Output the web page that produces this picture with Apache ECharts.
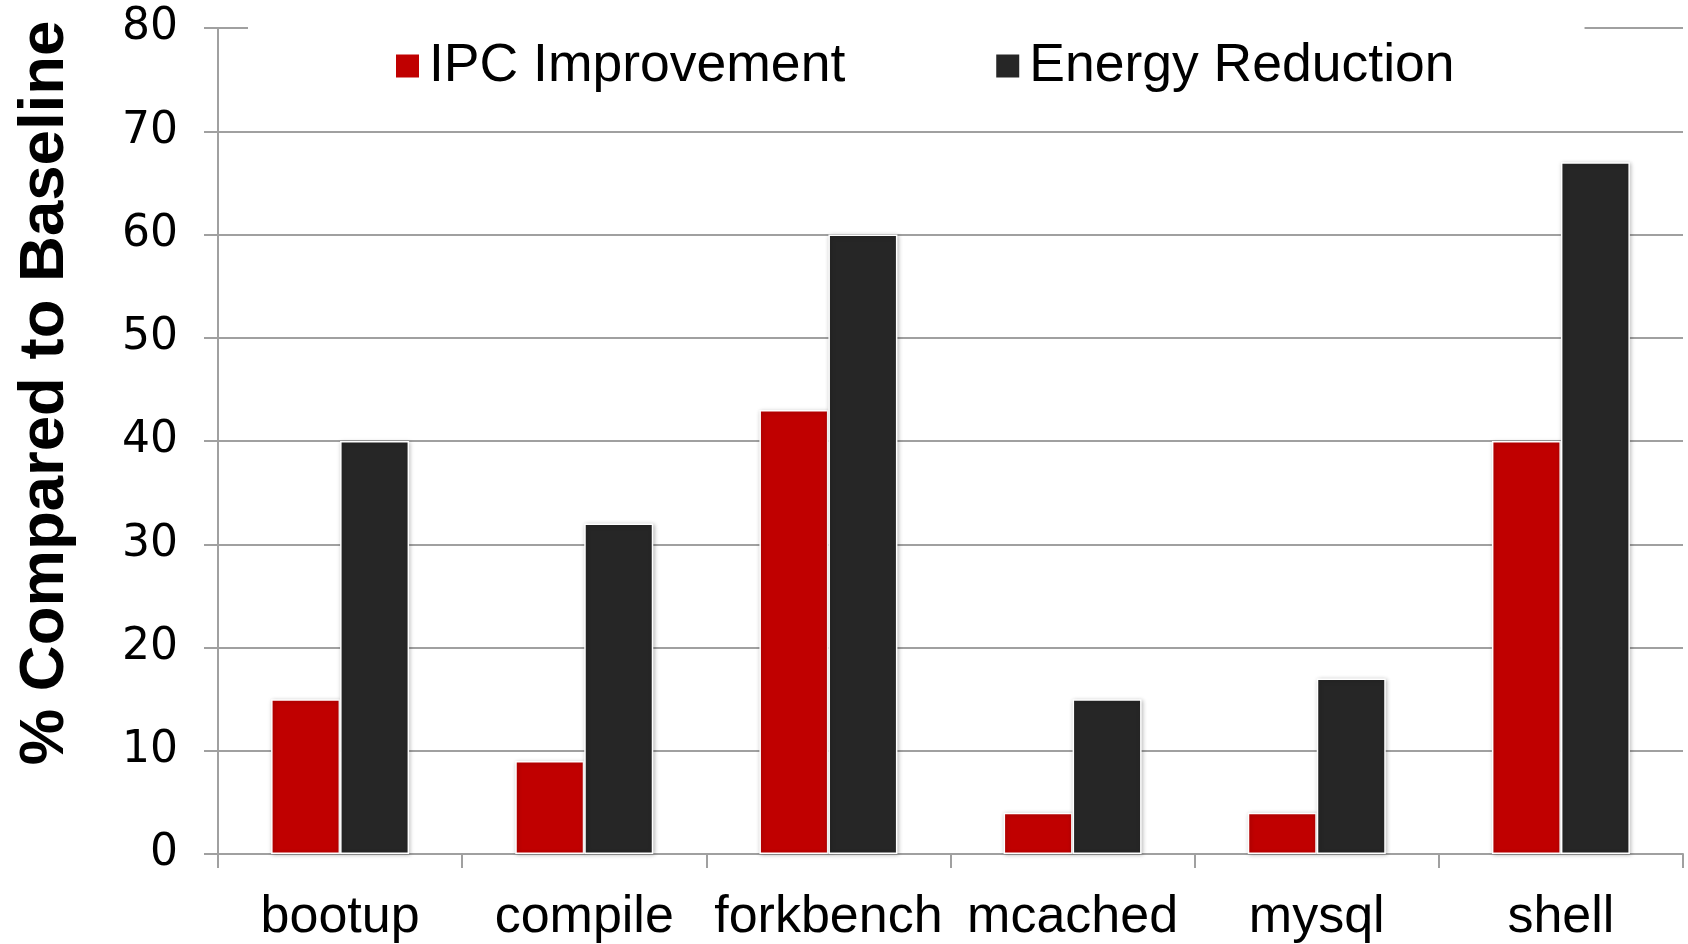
<!DOCTYPE html>
<html>
<head>
<meta charset="utf-8">
<script src="https://cdn.jsdelivr.net/npm/echarts@6/dist/echarts.min.js"></script>
<style>html,body{margin:0;padding:0;background:#fff}#c{width:1688px;height:944px}</style>
</head>
<body>
<div id="c"></div>
<script>
const categories = ['bootup', 'compile', 'forkbench', 'mcached', 'mysql', 'shell'];
const ipcImprovement = [15, 9, 43, 4, 4, 40];
const energyReduction = [40, 32, 60, 15, 17, 67];
const seriesNames = ['IPC Improvement', 'Energy Reduction'];
const yTicks = { min: 0, max: 80, interval: 10 };

const chart = echarts.init(document.getElementById('c'), null, { renderer: 'canvas' });
const barStyle = (color) => ({
  color: color,
  borderColor: '#ffffff',
  borderWidth: 1.5,
  shadowColor: 'rgba(0,0,0,0.25)',
  shadowBlur: 4,
  shadowOffsetX: 1,
  shadowOffsetY: 1
});
chart.setOption({
  animation: false,
  backgroundColor: '#ffffff',
  grid: { left: 218, right: 5, top: 28, bottom: 90, containLabel: false },
  legend: {
    data: seriesNames,
    left: 248,
    top: 22,
    padding: [17, 130, 8, 146],
    backgroundColor: '#ffffff',
    itemWidth: 25,
    itemHeight: 25,
    itemGap: 149,
    icon: 'rect',
    textStyle: { fontFamily: 'Liberation Sans', fontSize: 53.5, color: '#000', padding: [0, 0, 0, 4] }
  },
  graphic: [{
    type: 'text',
    x: 45,
    y: 393,
    rotation: Math.PI / 2,
    style: {
      text: '% Compared to Baseline',
      fontFamily: 'Liberation Sans',
      fontWeight: 'bold',
      fontSize: 63.5,
      fill: '#000',
      textAlign: 'center',
      textVerticalAlign: 'middle'
    }
  }],
  xAxis: {
    type: 'category',
    data: categories,
    axisLine: { lineStyle: { color: '#a0a0a0', width: 2 } },
    axisTick: { show: true, interval: 0, length: 14, lineStyle: { color: '#a0a0a0', width: 2 } },
    axisLabel: { interval: 0, fontFamily: 'Liberation Sans', fontSize: 52, color: '#000', margin: 38 }
  },
  yAxis: {
    type: 'value',
    min: yTicks.min,
    max: yTicks.max,
    interval: yTicks.interval,
    axisLine: { show: true, lineStyle: { color: '#a0a0a0', width: 2 } },
    axisTick: { show: true, length: 14, lineStyle: { color: '#a0a0a0', width: 2 } },
    splitLine: { lineStyle: { color: '#a0a0a0', width: 2 } },
    axisLabel: { fontFamily: 'DejaVu Sans', fontSize: 44, color: '#000', margin: 40 }
  },
  series: [
    { name: seriesNames[0], type: 'bar', data: ipcImprovement, barWidth: 69, barGap: '0%', itemStyle: barStyle('#C00000') },
    { name: seriesNames[1], type: 'bar', data: energyReduction, barWidth: 69, barGap: '0%', itemStyle: barStyle('#262626') }
  ]
});
</script>
</body>
</html>
